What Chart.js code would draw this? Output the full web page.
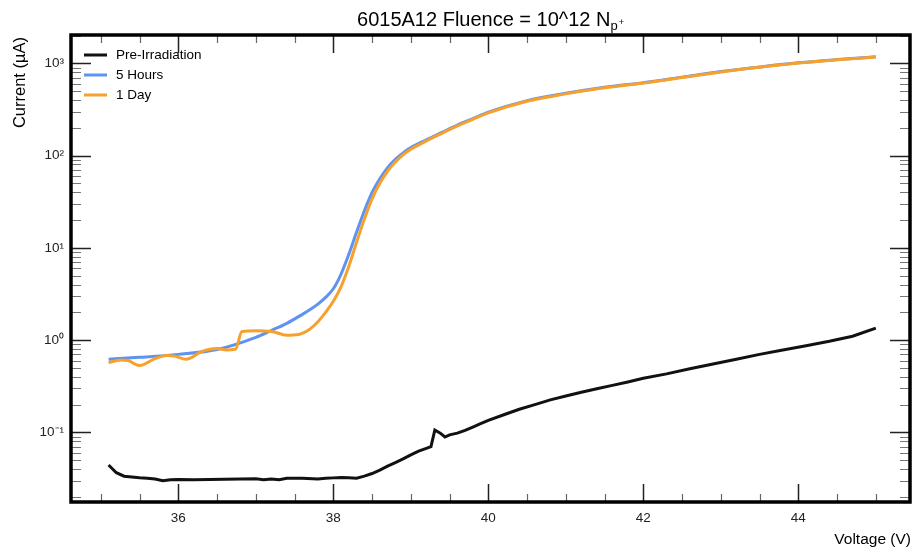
<!DOCTYPE html>
<html>
<head>
<meta charset="utf-8">
<script src="https://cdn.jsdelivr.net/npm/chart.js@4/dist/chart.umd.min.js"></script>
<style>
  html, body { margin: 0; padding: 0; background: #fff; }
  #wrap { width: 914px; height: 551px; }
</style>
</head>
<body>
<div id="wrap"><canvas id="ivChart" width="914" height="551"></canvas></div>
<script>
// valores (tensão em V, corrente em µA)
const voltsPre = [35.1, 35.2, 35.3, 35.4, 35.5, 35.6, 35.7, 35.8, 35.9, 36.0, 36.2, 36.4, 36.6, 36.8, 37.0,
  37.1, 37.2, 37.3, 37.4, 37.6, 37.8, 37.9, 38.0, 38.1, 38.2, 38.3, 38.4, 38.5, 38.6, 38.7, 38.8, 38.9,
  39.0, 39.1, 39.2, 39.26, 39.31, 39.38, 39.44, 39.5, 39.6, 39.7, 39.8, 39.9, 40.0, 40.2, 40.4, 40.6,
  40.8, 41.0, 41.2, 41.4, 41.6, 41.8, 42.0, 42.3, 42.6, 42.9, 43.2, 43.5, 43.8, 44.1, 44.4, 44.7, 45.0];
const currentPre = [0.0442, 0.0365, 0.0335, 0.0328, 0.0322, 0.0318, 0.0312, 0.0299, 0.0306, 0.0309, 0.0307,
  0.0308, 0.0310, 0.0312, 0.0314, 0.0307, 0.0313, 0.0306, 0.0318, 0.0318, 0.0312, 0.0318, 0.0321, 0.0325,
  0.0322, 0.0319, 0.0335, 0.0358, 0.0390, 0.0430, 0.0470, 0.0515, 0.0570, 0.0625, 0.0670, 0.0700, 0.106,
  0.098, 0.089, 0.094, 0.098, 0.105, 0.114, 0.124, 0.135, 0.155, 0.178, 0.200, 0.225, 0.248, 0.272, 0.297,
  0.323, 0.352, 0.385, 0.43, 0.49, 0.55, 0.62, 0.70, 0.78, 0.87, 0.97, 1.10, 1.35];

const volts5h = [35.1, 35.5, 36.0, 36.5, 37.0, 37.2, 37.4, 37.6, 37.7, 37.8, 37.9, 38.0, 38.1, 38.2, 38.3,
  38.4, 38.5, 38.6, 38.7, 38.8, 38.9, 39.0, 39.2, 39.4, 39.6, 39.8, 40.0, 40.5, 41.0, 41.5, 42.0, 42.5,
  43.0, 43.5, 44.0, 44.5, 45.0];
const current5h = [0.62, 0.65, 0.70, 0.79, 1.07, 1.27, 1.52, 1.9, 2.14, 2.45, 2.9, 3.6, 5.2, 8.5, 14.8,
  25.1, 39.8, 56, 74, 91, 107, 122, 148, 178, 214, 251, 295, 394, 473, 550, 617, 708, 813, 912, 1012,
  1096, 1175];

const volts1d = [35.1, 35.25, 35.35, 35.5, 35.7, 35.85, 35.95, 36.1, 36.3, 36.5, 36.62, 36.74, 36.82, 37.0,
  37.2, 37.4, 37.55, 37.7, 37.8, 37.9, 38.0, 38.1, 38.2, 38.3, 38.4, 38.5, 38.6, 38.7, 38.8, 38.9, 39.0,
  39.2, 39.4, 39.6, 39.8, 40.0, 40.5, 41.0, 41.5, 42.0, 42.5, 43.0, 43.5, 44.0, 44.5, 45.0];
const current1d = [0.57, 0.61, 0.60, 0.53, 0.63, 0.68, 0.67, 0.62, 0.75, 0.81, 0.78, 0.80, 1.24, 1.26,
  1.24, 1.13, 1.15, 1.32, 1.58, 2.0, 2.63, 3.8, 6.3, 11.5, 20.4, 33.9, 50, 67.6, 85, 102, 117, 144, 174,
  210, 247, 290, 388, 466, 543, 610, 700, 805, 905, 1005, 1090, 1170];

const seriesNames = ["Pre-Irradiation", "5 Hours", "1 Day"];
const xMajorTicks = [36, 38, 40, 42, 44];
const yMajorTicks = [0.1, 1, 10, 100, 1000];

const FONT = '"Liberation Sans", Helvetica, Arial, sans-serif';
const sup = { "-": "\u207B", "0": "\u2070", "1": "\u00B9", "2": "\u00B2", "3": "\u00B3" };

function pts(xs, ys) {
  return xs.map((v, i) => ({ x: v, y: ys[i] }));
}

// moldura, marcas internas, título e legenda
const framePlugin = {
  id: "frame",
  afterDraw(chart) {
    const { ctx, chartArea: a, scales } = chart;
    const x = scales.x, y = scales.y;
    ctx.save();

    // marcas do eixo x (a cada 0.5 V)
    for (let v = 35; v <= 45.5; v += 0.5) {
      if (v < x.min || v > x.max) continue;
      const px = Math.round(x.getPixelForValue(v)) + 0.5;
      const major = v % 2 === 0;
      const len = major ? 18 : 8;
      ctx.strokeStyle = major ? "#222" : "#666";
      ctx.lineWidth = major ? 1.5 : 1.2;
      ctx.beginPath();
      ctx.moveTo(px, a.bottom); ctx.lineTo(px, a.bottom - len);
      ctx.moveTo(px, a.top); ctx.lineTo(px, a.top + len);
      ctx.stroke();
    }

    // marcas do eixo y (log)
    for (let e = -2; e <= 3; e++) {
      for (let m = 1; m <= 9; m++) {
        const val = m * Math.pow(10, e);
        if (val < y.min || val > y.max) continue;
        const py = Math.round(y.getPixelForValue(val)) + 0.5;
        const major = m === 1;
        const len = major ? 20 : 10;
        ctx.strokeStyle = major ? "#222" : "#777";
        ctx.lineWidth = major ? 1.5 : 1.2;
        ctx.beginPath();
        ctx.moveTo(a.left, py); ctx.lineTo(a.left + len, py);
        ctx.moveTo(a.right, py); ctx.lineTo(a.right - len, py);
        ctx.stroke();
      }
    }

    // moldura
    ctx.strokeStyle = "#000";
    ctx.lineWidth = 3.5;
    ctx.strokeRect(a.left, a.top, a.right - a.left, a.bottom - a.top);

    // título
    ctx.fillStyle = "#000";
    ctx.textBaseline = "alphabetic";
    const main = "6015A12 Fluence = 10^12 N";
    ctx.font = "20px " + FONT;
    const w1 = ctx.measureText(main).width;
    ctx.font = "13px " + FONT;
    const w2 = ctx.measureText("p").width;
    ctx.font = "9px " + FONT;
    const w3 = ctx.measureText("+").width;
    let tx = (a.left + a.right) / 2 - (w1 + w2 + w3 + 1) / 2;
    ctx.textAlign = "left";
    ctx.font = "20px " + FONT;
    ctx.fillText(main, tx, 26);
    tx += w1;
    ctx.font = "13px " + FONT;
    ctx.fillText("p", tx, 30);
    tx += w2 + 1;
    ctx.font = "9px " + FONT;
    ctx.fillText("+", tx, 25);

    // títulos dos eixos
    ctx.font = "15.5px " + FONT;
    ctx.textAlign = "right";
    ctx.textBaseline = "middle";
    ctx.fillText("Voltage (V)", 911, 540);
    ctx.save();
    ctx.translate(20, 37);
    ctx.rotate(-Math.PI / 2);
    ctx.font = "16.5px " + FONT;
    ctx.fillText("Current (\u00B5A)", 0, 0);
    ctx.restore();

    // legenda
    ctx.font = "13.5px " + FONT;
    ctx.textAlign = "left";
    ctx.textBaseline = "middle";
    chart.data.datasets.forEach((ds, i) => {
      const ly = 55 + i * 20;
      ctx.strokeStyle = ds.borderColor;
      ctx.lineWidth = 3;
      ctx.beginPath();
      ctx.moveTo(84, ly); ctx.lineTo(107, ly);
      ctx.stroke();
      ctx.fillStyle = "#000";
      ctx.fillText(ds.label, 116, ly);
    });
    ctx.restore();
  }
};

const ctx = document.getElementById("ivChart").getContext("2d");
new Chart(ctx, {
  type: "line",
  data: {
    datasets: [
      {
        label: seriesNames[0],
        data: pts(voltsPre, currentPre),
        borderColor: "#111111",
        borderWidth: 3,
        tension: 0,
        order: 0
      },
      {
        label: seriesNames[1],
        data: pts(volts5h, current5h),
        borderColor: "#5f93f0",
        borderWidth: 3,
        cubicInterpolationMode: "monotone",
        order: 2
      },
      {
        label: seriesNames[2],
        data: pts(volts1d, current1d),
        borderColor: "#f7a02c",
        borderWidth: 3,
        cubicInterpolationMode: "monotone",
        order: 1
      }
    ]
  },
  options: {
    responsive: false,
    animation: false,
    events: [],
    layout: { padding: { top: 35, right: 4, left: 0, bottom: 0 } },
    elements: { point: { radius: 0 } },
    plugins: {
      legend: { display: false },
      tooltip: { enabled: false },
      title: { display: false }
    },
    scales: {
      x: {
        type: "linear",
        min: 34.615,
        max: 45.441,
        grid: { display: false, drawTicks: false },
        border: { display: false },
        afterFit(scale) { scale.height = 49; },
        afterBuildTicks(scale) { scale.ticks = xMajorTicks.map(v => ({ value: v })); },
        ticks: {
          autoSkip: false,
          maxRotation: 0,
          padding: 8,
          color: "#222",
          font: { family: FONT, size: 13.5 },
          callback: v => String(v)
        }
      },
      y: {
        type: "logarithmic",
        min: 0.01758,
        max: 2026,
        grid: { display: false, drawTicks: false },
        border: { display: false },
        afterFit(scale) { scale.width = 71; },
        afterBuildTicks(scale) { scale.ticks = yMajorTicks.map(v => ({ value: v })); },
        ticks: {
          autoSkip: false,
          padding: 7,
          color: "#222",
          font: { family: FONT, size: 13.5 },
          callback: v => "10" + String(Math.round(Math.log10(v))).split("").map(c => sup[c]).join("")
        }
      }
    }
  },
  plugins: [framePlugin]
});
</script>
</body>
</html>
